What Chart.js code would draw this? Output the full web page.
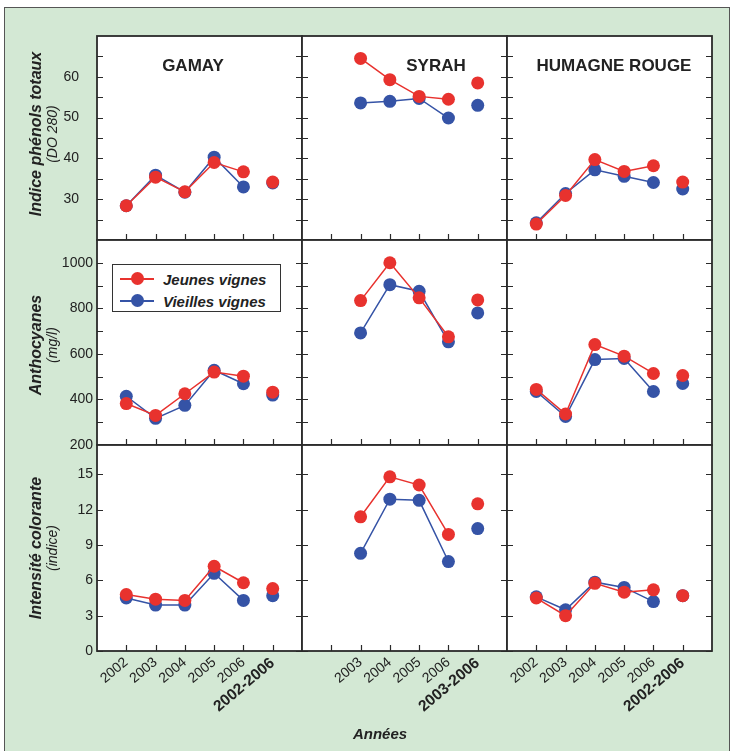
<!DOCTYPE html>
<html><head><meta charset="utf-8">
<script src="https://cdn.jsdelivr.net/npm/chart.js@4"></script>
<style>
html,body{margin:0;padding:0;background:#fff;width:732px;height:751px;overflow:hidden;font-family:"Liberation Sans",Arial,sans-serif;}
#frame{position:absolute;left:4px;top:7px;width:726px;height:770px;background:#d3e8d4;border:1.5px solid #555;box-sizing:border-box;}
canvas{position:absolute;}
.t{position:absolute;transform:translate(-50%,-50%);white-space:nowrap;color:#222;}
.r{position:absolute;transform:translate(-50%,-50%) rotate(-90deg);white-space:nowrap;color:#222;}
.ptitle{font-weight:bold;font-size:17px;}
.yt1{font-weight:bold;font-style:italic;font-size:16px;}
.yt2{font-style:italic;font-size:14px;}
#legend{position:absolute;left:112px;top:264px;width:169px;height:48px;border:1px solid #333;background:#fff;box-sizing:border-box;}
#legend .ln{position:absolute;left:7px;width:34px;height:1.5px;}
#legend .dot{position:absolute;left:18px;width:13px;height:13px;border-radius:50%;}
#legend .lt{position:absolute;left:50px;font-weight:bold;font-style:italic;font-size:15px;color:#222;transform:translateY(-50%);white-space:nowrap;}
</style>
</head><body>
<div id="frame"></div>
<div id="stage"></div>
<div class="t ptitle" style="left:193px;top:66px">GAMAY</div>
<div class="t ptitle" style="left:436px;top:66px">SYRAH</div>
<div class="t ptitle" style="left:614px;top:66px">HUMAGNE ROUGE</div>
<div class="r yt1" style="left:36px;top:134px">Indice phénols totaux</div>
<div class="r yt2" style="left:52px;top:134px">(DO 280)</div>
<div class="r yt1" style="left:36px;top:345px">Anthocyanes</div>
<div class="r yt2" style="left:52px;top:345px">(mg/l)</div>
<div class="r yt1" style="left:36px;top:548px">Intensité colorante</div>
<div class="r yt2" style="left:52px;top:548px">(indice)</div>
<div class="t yt1" style="left:380px;top:733px;font-size:15px">Années</div>
<script>
// ---- Data ----
const catsGamay   = ['', '2002', '2003', '2004', '2005', '2006', '2002-2006', ''];
const catsSyrah   = ['', '', '2003', '2004', '2005', '2006', '2003-2006', ''];
const catsHumagne = ['', '2002', '2003', '2004', '2005', '2006', '2002-2006', ''];

// Indice phénols totaux (DO 280)
const phenolsGamayJeunes    = [28.4, 35.4, 31.8, 39.0, 36.7, 34.2];
const phenolsGamayVieilles  = [28.4, 35.9, 31.7, 40.3, 33.0, 34.0];
const phenolsSyrahJeunes    = [64.5, 59.3, 55.2, 54.5, 58.5];
const phenolsSyrahVieilles  = [53.6, 54.0, 54.7, 49.9, 53.0];
const phenolsHumagneJeunes  = [23.9, 30.9, 39.7, 36.8, 38.2, 34.2];
const phenolsHumagneVieilles= [24.2, 31.4, 37.2, 35.6, 34.1, 32.5];

// Anthocyanes (mg/l)
const anthoGamayJeunes     = [382, 330, 425, 520, 502, 432];
const anthoGamayVieilles   = [414, 317, 374, 528, 469, 419];
const anthoSyrahJeunes     = [834, 1000, 846, 675, 837];
const anthoSyrahVieilles   = [692, 904, 875, 653, 780];
const anthoHumagneJeunes   = [444, 336, 641, 590, 514, 505];
const anthoHumagneVieilles = [435, 325, 575, 580, 435, 470];

// Intensité colorante (indice)
const icGamayJeunes     = [4.8, 4.4, 4.3, 7.2, 5.8, 5.3];
const icGamayVieilles   = [4.5, 3.9, 3.9, 6.6, 4.3, 4.7];
const icSyrahJeunes     = [11.4, 14.8, 14.1, 9.9, 12.5];
const icSyrahVieilles   = [8.3, 12.9, 12.8, 7.6, 10.4];
const icHumagneJeunes   = [4.5, 3.0, 5.75, 5.0, 5.2, 4.7];
const icHumagneVieilles = [4.6, 3.5, 5.85, 5.4, 4.2, 4.7];

// Axis ticks
const ticksPhenols = [30, 40, 50, 60];
const minorPhenols = [25, 35, 45, 55, 65];
const ticksAntho   = [200, 400, 600, 800, 1000];
const minorAntho   = [300, 500, 700, 900];
const ticksIC      = [0, 3, 6, 9, 12, 15];
const minorIC      = [];

const seriesNames = ['Jeunes vignes', 'Vieilles vignes'];
const RED = '#e8322e', BLUE = '#3553a6';

// ---- Layout ----
const colX = [97, 302, 507, 712];
const rowY = [36, 240, 445, 651];
const P = 10, YW = 80, XH = 75;

const rows = [
  {min: 20, max: 70, major: ticksPhenols, minor: minorPhenols, pad: 18,
   data: [[phenolsGamayJeunes, phenolsGamayVieilles],[phenolsSyrahJeunes, phenolsSyrahVieilles],[phenolsHumagneJeunes, phenolsHumagneVieilles]]},
  {min: 200, max: 1100, major: ticksAntho, minor: minorAntho, pad: 4,
   data: [[anthoGamayJeunes, anthoGamayVieilles],[anthoSyrahJeunes, anthoSyrahVieilles],[anthoHumagneJeunes, anthoHumagneVieilles]]},
  {min: 0, max: 17.5, major: ticksIC, minor: minorIC, pad: 4,
   data: [[icGamayJeunes, icGamayVieilles],[icSyrahJeunes, icSyrahVieilles],[icHumagneJeunes, icHumagneVieilles]]}
];
const cols = [catsGamay, catsSyrah, catsHumagne];

const framePlugin = {
  id: 'frame',
  beforeDatasetsDraw(chart, args, opts) {
    const {ctx, chartArea: a, scales} = chart;
    ctx.save();
    ctx.fillStyle = '#fff';
    ctx.fillRect(a.left, a.top, a.right - a.left, a.bottom - a.top);
    ctx.strokeStyle = '#2a2a2a';
    ctx.lineWidth = 1.2;
    const L = 6;
    ctx.beginPath();
    for (const v of opts.major.concat(opts.minor)) {
      const py = Math.round(scales.y.getPixelForValue(v)) + 0.5;
      ctx.moveTo(a.left, py); ctx.lineTo(a.left + L, py);
      ctx.moveTo(a.right, py); ctx.lineTo(a.right - L, py);
    }
    for (let i = 1; i <= 6; i++) {
      const px = Math.round(scales.x.getPixelForValue(i)) + 0.5;
      ctx.moveTo(px, a.bottom); ctx.lineTo(px, a.bottom - L);
    }
    ctx.stroke();
    ctx.lineWidth = 1.8;
    ctx.strokeRect(a.left, a.top, a.right - a.left, a.bottom - a.top);
    ctx.restore();
  }
};

Chart.defaults.font.family = '"Liberation Sans", Arial, sans-serif';
Chart.defaults.color = '#222';

const stage = document.getElementById('stage');

function pad(vals, cats) {
  const first = cats.indexOf(cats.slice(1).find(c => c !== ''));
  const out = cats.map(() => null);
  vals.forEach((v, i) => { out[first + i] = v; });
  return out;
}

rows.forEach((rw, r) => {
  cols.forEach((cats, c) => {
    const showY = c === 0, showX = r === 2;
    const w = colX[c+1] - colX[c], h = rowY[r+1] - rowY[r];
    const cw = w + 2*P + (showY ? YW : 0);
    const ch = h + 2*P + (showX ? XH : 0);
    const cv = document.createElement('canvas');
    cv.width = cw; cv.height = ch;
    cv.style.left = (colX[c] - P - (showY ? YW : 0)) + 'px';
    cv.style.top = (rowY[r] - P) + 'px';
    cv.style.width = cw + 'px'; cv.style.height = ch + 'px';
    stage.appendChild(cv);
    const last = cats.length - 2;
    const mk = (vals, i, color) => ({
      label: seriesNames[i],
      data: pad(vals, cats),
      borderColor: color, backgroundColor: color,
      pointBackgroundColor: color, pointBorderWidth: 0, pointRadius: 6.5,
      borderWidth: 1.5, spanGaps: false,
      segment: { borderColor: s => s.p1DataIndex === last ? 'rgba(0,0,0,0)' : undefined }
    });
    new Chart(cv, {
      type: 'line',
      data: { labels: cats, datasets: [mk(rw.data[c][0], 0, RED), mk(rw.data[c][1], 1, BLUE)] },
      plugins: [framePlugin],
      options: {
        responsive: false, animation: false, devicePixelRatio: 1,
        layout: { padding: P },
        plugins: { legend: {display: false}, tooltip: {enabled: false}, frame: {major: rw.major, minor: rw.minor} },
        scales: {
          x: {
            type: 'category', offset: false, display: showX,
            grid: {display: false, drawTicks: false}, border: {display: false},
            ticks: {
              autoSkip: false, maxRotation: 40, minRotation: 40, padding: 3, color: '#222',
              font: ctx => (ctx.index === last ? { size: 15.5, weight: 'bold' } : { size: 14, weight: 'normal' })
            },
            afterFit: s => { if (showX) { s.height = XH; } s.paddingLeft = 0; s.paddingRight = 0; }
          },
          y: {
            type: 'linear', min: rw.min, max: rw.max, display: showY,
            grid: {display: false, drawTicks: false}, border: {display: false},
            ticks: { font: {size: 14}, padding: rw.pad, color: '#222', callback: v => String(v) },
            afterBuildTicks: s => { s.ticks = rw.major.map(v => ({value: v})); },
            afterFit: s => { if (showY) { s.width = YW; } s.paddingTop = 0; s.paddingBottom = 0; }
          }
        }
      }
    });
  });
});
</script>
<div id="legend">
  <span class="ln" style="top:13px;background:#e8322e"></span><span class="dot" style="top:7px;background:#e8322e"></span>
  <span class="lt" style="top:14px">Jeunes vignes</span>
  <span class="ln" style="top:35px;background:#3553a6"></span><span class="dot" style="top:29px;background:#3553a6"></span>
  <span class="lt" style="top:36px">Vieilles vignes</span>
</div>
</body></html>
